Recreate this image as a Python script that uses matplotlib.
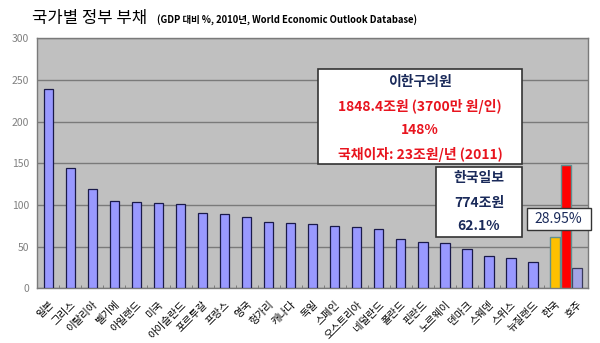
import numpy as np
import matplotlib.pyplot as plt

plt.rcParams['font.family'] = ['Noto Sans CJK KR', 'DejaVu Sans']

countries = ['일본', '그리스', '이탈리아', '벨기에', '아일랜드', '미국', '아이슬란드',
             '포르투갈', '프랑스', '영국', '헝가리', '캐나다', '독일', '스페인',
             '오스트리아', '네덜란드', '폴란드', '핀란드', '노르웨이', '덴마크',
             '스웨덴', '스위스', '뉴질랜드', '한국', '호주']
debt = [239, 144, 119, 104.5, 103.5, 102.5, 101, 90, 89, 85, 79, 78.5, 77, 74.5,
        73, 71.5, 59, 55, 54, 47.5, 38.5, 36, 31.5, None, 24]
korea_hk = 62.1      # 한국일보
korea_lee = 148      # 이한구의원
korea_imf = 28.95

fig = plt.figure(figsize=(6, 3.43), dpi=100)
ax = fig.add_axes([0.0622, 0.1595, 0.918, 0.7288])
ax.set_facecolor('#c0c0c0')

x = np.arange(len(countries))
for i, v in enumerate(debt):
    if v is None:
        continue
    face, edge = ('#9999ff', '#1a1a4a') if countries[i] != '호주' else ('#a4a4e4', '#3a3a5a')
    ax.bar(i, v, width=0.42, color=face, edgecolor=edge, linewidth=0.9, zorder=3)

ik = countries.index('한국')
ax.bar(ik, korea_hk, width=0.48, color='#ffc000', edgecolor='#5f8f8f', linewidth=1, zorder=3)
ax.bar(ik + 0.5, korea_lee, width=0.48, color='#ff0000', edgecolor='#5f8f8f', linewidth=1, zorder=3)

ax.set_xlim(-0.5, len(countries) - 0.5)
ax.set_ylim(0, 300)
ax.set_yticks(range(0, 301, 50))
ax.yaxis.grid(True, color='#7a7a7a', linewidth=1)
ax.set_axisbelow(True)
ax.tick_params(axis='y', length=0, labelsize=7.5, labelcolor='#808080', pad=6)

ax.set_xticks(x)
ax.set_xticklabels(countries, rotation=45, ha='right', rotation_mode='anchor', fontsize=7.5)
ax.tick_params(axis='x', which='major', length=0, pad=8)
ax.set_xticks(np.arange(0.5, len(countries) - 1), minor=True)
ax.tick_params(axis='x', which='minor', direction='in', length=2.5, color='#707070')

for s in ax.spines.values():
    s.set_color('#7a7a7a')
    s.set_linewidth(1)

navy = '#1a2a5a'
red = '#e8141e'

# annotation boxes (figure pixel coordinates)
def box(x0, y0, x1, y1, lw=1.2):
    fig.patches.append(plt.Rectangle((x0 / 600, 1 - y1 / 343), (x1 - x0) / 600, (y1 - y0) / 343,
                                     transform=fig.transFigure, facecolor='white',
                                     edgecolor='#333333', linewidth=lw, zorder=5))

def txt(px, py, s, color, size=10, weight='bold'):
    fig.text(px / 600, 1 - py / 343, s, color=color, fontsize=size, fontweight=weight,
             ha='center', va='center', zorder=6)

box(318, 69, 522, 164)
txt(420, 82, '이한구의원', navy)
txt(420, 106, '1848.4조원 (3700만 원/인)', red)
txt(420, 129.5, f'{korea_lee}%', red)
txt(420, 154, '국채이자: 23조원/년 (2011)', red)

box(436, 166.5, 522, 237)
txt(479, 178, '한국일보', navy)
txt(479, 203, '774조원', navy)
txt(479, 226, f'{korea_hk}%', navy)

box(526.5, 207.5, 590.5, 230, lw=1)
txt(558.5, 219, f'{korea_imf}%', navy, size=10, weight='normal')

fig.text(32 / 600, 1 - 19 / 343, '국가별 정부 부채', fontsize=12, va='center', ha='left')
fig.text(157 / 600, 1 - 20 / 343, '(GDP 대비 %, 2010년, World Economic Outlook Database)',
         fontsize=6.8, fontweight='bold', va='center', ha='left')

fig.savefig('out.png', dpi=100, facecolor='white')
